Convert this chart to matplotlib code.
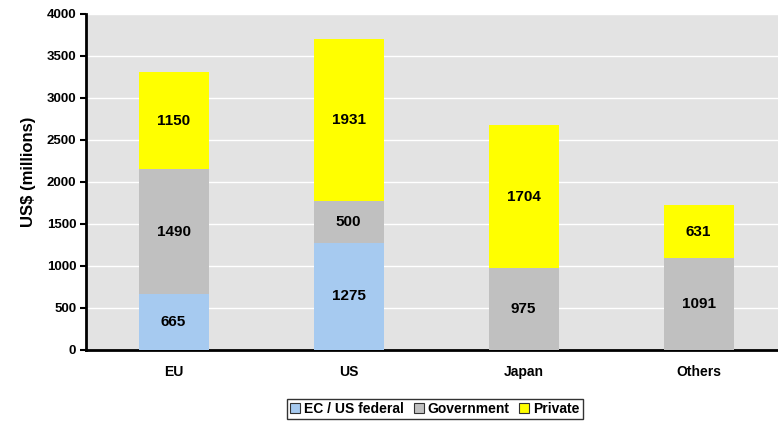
import matplotlib.pyplot as plt
import numpy as np
from matplotlib.patches import Patch

plt.rcParams['font.family'] = ['Liberation Sans', 'DejaVu Sans']
plt.rcParams['font.weight'] = 'bold'

regions = ['EU', 'US', 'Japan', 'Others']
federal = [665, 1275, 0, 0]
government = [1490, 500, 975, 1091]
private = [1150, 1931, 1704, 631]

series = [('EC / US federal', federal, '#A6CAF0'),
          ('Government', government, '#C0C0C0'),
          ('Private', private, '#FFFF00')]

fig = plt.figure(figsize=(7.78, 4.22), dpi=100)
ax = fig.add_axes([86 / 778, 72 / 422, 692 / 778, 336 / 422])
ax.set_facecolor('#E3E3E3')

x = np.arange(len(regions))
bottom = np.zeros(len(regions))
for name, vals, col in series:
    vals = np.array(vals, dtype=float)
    ax.bar(x, vals, 0.4, bottom=bottom, color=col, zorder=3)
    for xi, b, v in zip(x, bottom, vals):
        if v > 0:
            ax.text(xi, b + v / 2, f'{int(v)}', ha='center', va='center',
                    fontsize=11, fontweight='bold', zorder=4)
    bottom += vals

ax.set_xlim(-0.5, 3.454)
ax.set_ylim(0, 4000)
ax.set_yticks(range(0, 4001, 500))
ax.yaxis.grid(True, color='white', linewidth=1, zorder=1)
ax.set_xticks(x)
ax.set_xticklabels(regions)
ax.tick_params(axis='x', length=0, pad=11, labelsize=10)
ax.tick_params(axis='y', length=4, width=1.5, labelsize=9.5, pad=3)
for s in ['top', 'right']:
    ax.spines[s].set_visible(False)
for s in ['left', 'bottom']:
    ax.spines[s].set_linewidth(2)
ax.set_ylabel('US$ (millions)', fontsize=12, fontweight='bold')
ax.yaxis.set_label_coords(-0.072, 0.53)

handles = [Patch(facecolor=c, edgecolor='#333333', linewidth=0.8, label=n)
           for n, _, c in series]
leg = fig.legend(handles=handles, loc='center', bbox_to_anchor=(435 / 778, 1 - 409 / 422),
                 ncol=3, fontsize=10, frameon=True, fancybox=False,
                 handlelength=0.7, handleheight=0.7, handletextpad=0.3,
                 columnspacing=0.7, borderpad=0.25)
leg.get_frame().set_edgecolor('black')
leg.get_frame().set_linewidth(1)

fig.savefig('out.png', dpi=100)
